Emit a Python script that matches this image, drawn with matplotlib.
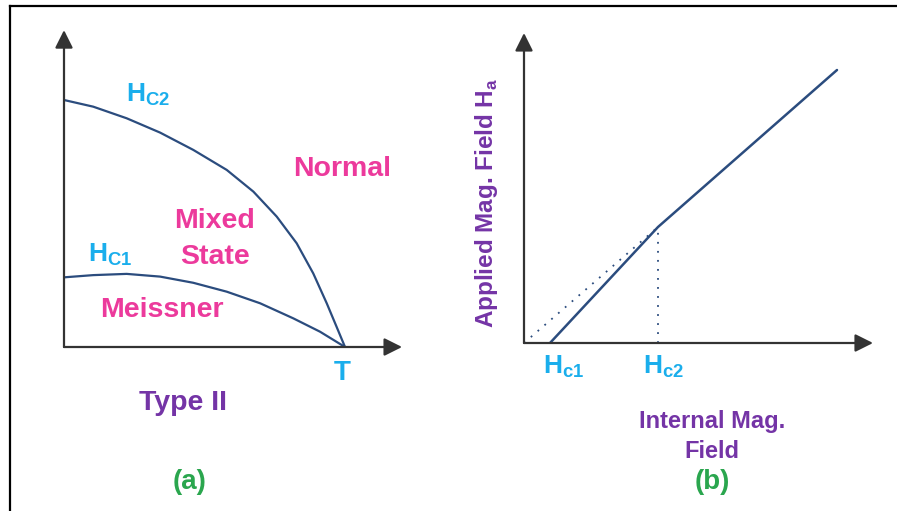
import matplotlib
matplotlib.use("Agg")
import matplotlib.pyplot as plt
from matplotlib.lines import Line2D

plt.rcParams["font.family"] = ["Liberation Sans", "DejaVu Sans"]
plt.rcParams["font.weight"] = "bold"
plt.rcParams["mathtext.fontset"] = "custom"
plt.rcParams["mathtext.bf"] = "Liberation Sans:bold"
plt.rcParams["mathtext.rm"] = "Liberation Sans:bold"

# --- panel (a): Type II phase diagram (T normalised to Tc, H to Hc2(0))
t_hc2 = [0.0, 0.104, 0.223, 0.342, 0.460, 0.579, 0.674, 0.757, 0.828, 0.887, 0.935, 0.970, 1.0]
h_hc2 = [1.0, 0.973, 0.926, 0.868, 0.798, 0.717, 0.629, 0.528, 0.420, 0.298, 0.177, 0.082, 0.0]
t_hc1 = [0.0, 0.104, 0.223, 0.342, 0.460, 0.579, 0.698, 0.816, 0.911, 1.0]
h_hc1 = [0.282, 0.291, 0.296, 0.285, 0.260, 0.224, 0.177, 0.116, 0.062, 0.0]

# --- panel (b): applied vs internal field
b_line_x = [0.26, 1.34, 3.13]
b_line_y = [0.0, 1.16, 2.73]
b_guide_x = [0.0, 1.34]
b_guide_y = [0.0, 1.16]
hc1_b, hc2_b = 0.26, 1.34

LINE = "#2b4c7e"
AXC = "#333333"
CYAN = "#1aaeec"
PINK = "#ec3a9c"
PURPLE = "#7434a6"
GREEN = "#2aa64e"

W, H = 897, 511
fig = plt.figure(figsize=(W / 100, H / 100), dpi=100)
fig.patch.set_facecolor("white")


def add_axes_px(x0, y0, xmax, ymax, scale_x, scale_y):
    # origin at pixel (x0, y0) measured from top-left
    left = x0 / W
    bottom = (H - y0) / H
    ax = fig.add_axes([left, bottom, xmax * scale_x / W, ymax * scale_y / H])
    ax.set_xlim(0, xmax)
    ax.set_ylim(0, ymax)
    ax.axis("off")
    return ax


def draw_arrows(ax, xtip, ytip):
    kw = dict(arrowstyle="-|>,head_length=0.9,head_width=0.45", color=AXC, lw=1.6,
              mutation_scale=12, shrinkA=0, shrinkB=0)
    ax.annotate("", xy=(xtip, 0), xytext=(0, 0), arrowprops=kw, annotation_clip=False)
    ax.annotate("", xy=(0, ytip), xytext=(0, 0), arrowprops=kw, annotation_clip=False)


# panel (a)
ax = add_axes_px(64, 347, 1.25, 1.35, 281, 247)
draw_arrows(ax, 1.203, 1.283)
ax.plot(t_hc2, h_hc2, color=LINE, lw=1.6, solid_capstyle="round", solid_joinstyle="round")
ax.plot(t_hc1, h_hc1, color=LINE, lw=1.6, solid_capstyle="round", solid_joinstyle="round")
txt = dict(ha="center", va="center", fontweight="bold", clip_on=False)
ax.text(0.299, 1.020, r"$\mathbf{H_{C2}}$", color=CYAN, fontsize=19, **txt)
ax.text(0.164, 0.372, r"$\mathbf{H_{C1}}$", color=CYAN, fontsize=19, **txt)
ax.text(0.989, 0.721, "Normal", color=PINK, fontsize=20.5, **txt)
ax.text(0.537, 0.510, "Mixed", color=PINK, fontsize=20.5, **txt)
ax.text(0.537, 0.364, "State", color=PINK, fontsize=20.5, **txt)
ax.text(0.349, 0.150, "Meissner", color=PINK, fontsize=20.5, **txt)
ax.text(0.989, -0.105, "T", color=CYAN, fontsize=20, **txt)
ax.text(0.423, -0.227, "Type II", color=PURPLE, fontsize=20.5, **txt)
ax.text(0.448, -0.547, "(a)", color=GREEN, fontsize=20, **txt)

# panel (b)
bx = add_axes_px(524, 343, 3.6, 3.2, 100, 100)
draw_arrows(bx, 3.49, 3.10)
bx.plot(b_guide_x, b_guide_y, color=LINE, lw=1.3, linestyle=(0, (1, 4)))
bx.plot([hc2_b, hc2_b], [0, b_line_y[1]], color=LINE, lw=1.3, linestyle=(0, (1, 4)))
bx.plot(b_line_x, b_line_y, color=LINE, lw=1.8, solid_capstyle="round")
bx.text(-0.38, 1.40, r"Applied Mag. Field H$_{\mathbf{a}}$", color=PURPLE,
        fontsize=17.5, rotation=90, **txt)
bx.text(0.40, -0.24, r"$\mathbf{H_{c1}}$", color=CYAN, fontsize=19, **txt)
bx.text(1.40, -0.24, r"$\mathbf{H_{c2}}$", color=CYAN, fontsize=19, **txt)
bx.text(1.88, -0.78, "Internal Mag.", color=PURPLE, fontsize=17, **txt)
bx.text(1.88, -1.08, "Field", color=PURPLE, fontsize=17, **txt)
bx.text(1.88, -1.39, "(b)", color=GREEN, fontsize=20, **txt)

# outer frame (top and left edges)
fig.add_artist(Line2D([10 / W, 1], [1 - 6.5 / H, 1 - 6.5 / H], color="black", lw=1.6))
fig.add_artist(Line2D([10 / W, 10 / W], [0, 1 - 6.5 / H], color="black", lw=1.6))

fig.savefig("out.png", dpi=100)
